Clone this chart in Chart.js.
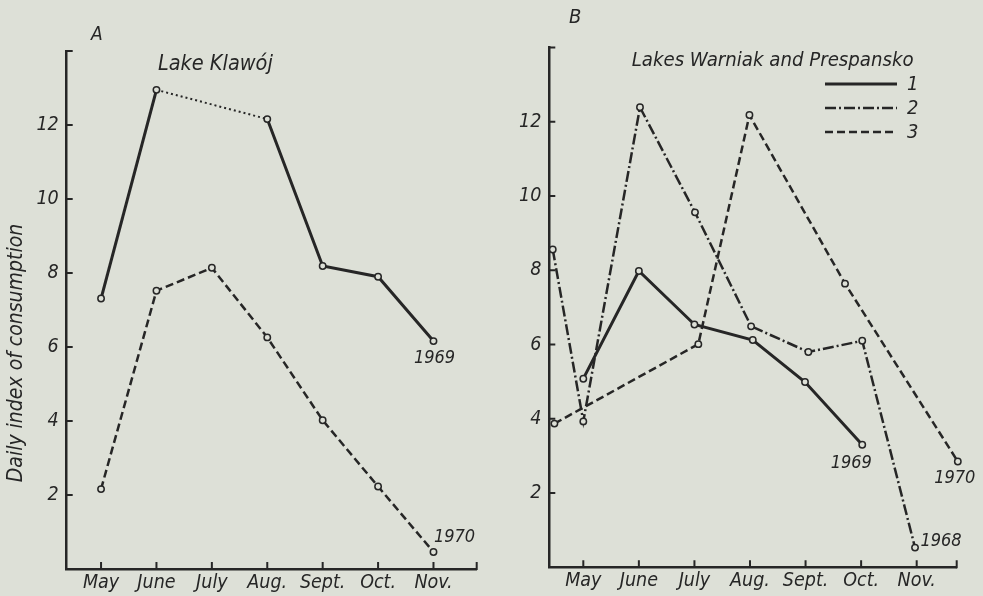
<!DOCTYPE html>
<html><head><meta charset="utf-8">
<script src="https://cdn.jsdelivr.net/npm/chart.js@4"></script>
<style>
html,body{margin:0;padding:0;background:#dde0d7;}
#wrap{position:relative;width:983px;height:596px;overflow:hidden;background:#dde0d7;}
canvas{position:absolute;top:0;}
</style></head><body>
<div id="wrap">
<canvas id="ca" width="490" height="596" style="left:0;width:490px;height:596px"></canvas>
<canvas id="cb" width="493" height="596" style="left:490px;width:493px;height:596px"></canvas>
</div>
<script>
// ---- data ----
const MONTHS = ['May','June','July','Aug.','Sept.','Oct.','Nov.'];
const MONTH_POS = [5,6,7,8,9,10,11];
const Y_TICKS = [2,4,6,8,10,12];

// Panel A – Lake Klawój
const A_1969_X = [5,6,8,9,10,11];
const A_1969_Y = [7.31,12.95,12.16,8.19,7.90,6.16];
const A_1970_X = [5,6,7,8,9,10,11];
const A_1970_Y = [2.16,7.52,8.14,6.26,4.02,2.23,0.46];

// Panel B – Lakes Warniak and Prespansko
const B_1_X = [5,6,7,8.05,8.99,10.02];
const B_1_Y = [5.08,7.98,6.54,6.12,4.99,3.30];
const B_2_X = [4.45,5,6.02,7.01,8.02,9.05,10.02,10.97];
const B_2_Y = [8.56,3.93,12.39,9.56,6.49,5.80,6.10,0.53];
const B_3_X = [4.48,7.07,7.99,9.71,11.74];
const B_3_Y = [3.87,6.01,12.18,7.64,2.85];

// ---- style ----
const INK = '#262626';
const PAPER = '#dde0d7';
const FONT = "'DejaVu Sans Condensed','Liberation Sans Narrow','Roboto Condensed','DejaVu Sans',sans-serif";
const DASH = [8,4];
const DASHDOT = [11,3,2,3];

function series(label, xs, ys, style) {
  return Object.assign({
    label: label,
    data: xs.map((x,i)=>({x:x, y:ys[i]})),
    borderColor: INK, backgroundColor: PAPER,
    pointBackgroundColor: PAPER, pointBorderColor: INK,
    pointRadius: 3.2, pointBorderWidth: 1.5, pointHoverRadius: 3.2,
    showLine: true, fill: false, tension: 0, clip: false,
    borderCapStyle: 'butt', borderJoinStyle: 'miter'
  }, style);
}

function decoPlugin(cfg) {
  return {
    id: 'deco',
    afterDraw(chart) {
      const ctx = chart.ctx, xs = chart.scales.x, ys = chart.scales.y, ca = chart.chartArea;
      ctx.save();
      ctx.strokeStyle = INK; ctx.lineWidth = 2; ctx.setLineDash([]);
      ctx.beginPath();
      MONTH_POS.forEach(v => { const px = xs.getPixelForValue(v); ctx.moveTo(px, ca.bottom); ctx.lineTo(px, ca.bottom - 7); });
      ctx.moveTo(ca.right, ca.bottom + 1); ctx.lineTo(ca.right, ca.bottom - 7);
      Y_TICKS.forEach(v => { const py = ys.getPixelForValue(v); ctx.moveTo(ca.left, py); ctx.lineTo(ca.left + 6, py); });
      ctx.moveTo(ca.left, ca.top); ctx.lineTo(ca.left + 6, ca.top);
      ctx.stroke();
      ctx.fillStyle = INK;
      ctx.textBaseline = 'alphabetic';
      (cfg.texts || []).forEach(t => {
        ctx.font = 'italic ' + t.size + 'px ' + FONT;
        ctx.textAlign = t.align || 'left';
        ctx.fillText(t.text, t.x, t.y);
      });
      (cfg.endLabels || []).forEach(t => {
        const meta = chart.getDatasetMeta(t.ds);
        const p = meta.data[meta.data.length - 1];
        ctx.font = 'italic ' + t.size + 'px ' + FONT;
        ctx.textAlign = 'center'; ctx.textBaseline = 'middle';
        ctx.fillText(t.text, p.x + t.dx, p.y + t.dy);
      });
      if (cfg.yTitle) {
        ctx.save();
        ctx.translate(cfg.yTitle.x, cfg.yTitle.y);
        ctx.rotate(-Math.PI / 2);
        ctx.font = 'italic ' + cfg.yTitle.size + 'px ' + FONT;
        ctx.textAlign = 'center'; ctx.textBaseline = 'middle';
        ctx.fillText(cfg.yTitle.text, 0, 0);
        ctx.restore();
      }
      if (cfg.legend) {
        const L = cfg.legend;
        chart.data.datasets.forEach((d, i) => {
          const y = L.y0 + i * L.dy;
          ctx.beginPath();
          ctx.setLineDash(d.borderDash || []);
          ctx.lineWidth = d.borderWidth;
          ctx.moveTo(L.x0, y); ctx.lineTo(L.x1, y); ctx.stroke();
          ctx.setLineDash([]);
          ctx.font = 'italic ' + L.size + 'px ' + FONT;
          ctx.textAlign = 'left'; ctx.textBaseline = 'middle';
          ctx.fillText(d.label, L.tx, y + 1);
        });
      }
      ctx.restore();
    }
  };
}

function options(p) {
  return {
    responsive: false, animation: false, devicePixelRatio: 1,
    layout: { padding: { top: p.top, right: p.right, left: 0, bottom: 0 } },
    plugins: { legend: { display: false }, tooltip: { enabled: false } },
    scales: {
      x: {
        type: 'linear', min: p.xmin, max: p.xmax,
        afterFit: s => { s.height = p.xh; },
        afterBuildTicks: s => { s.ticks = MONTH_POS.map(v => ({ value: v })); },
        grid: { display: true, drawOnChartArea: false, drawTicks: false },
        border: { display: true, color: INK, width: 2.5 },
        ticks: {
          padding: 2, color: INK, maxRotation: 0, autoSkip: false,
          font: { family: FONT, size: 19.5, style: 'italic' },
          callback: v => MONTHS[MONTH_POS.indexOf(v)]
        }
      },
      y: {
        type: 'linear', min: 0, max: 14,
        afterFit: s => { s.width = p.left; },
        afterBuildTicks: s => { s.ticks = Y_TICKS.map(v => ({ value: v })); },
        grid: { display: true, drawOnChartArea: false, drawTicks: false },
        border: { display: true, color: INK, width: 2.5 },
        ticks: {
          padding: 8, color: INK,
          font: { family: FONT, size: 19.5, style: 'italic' }
        }
      }
    }
  };
}

new Chart(document.getElementById('ca'), {
  type: 'line',
  data: {
    datasets: [
      series('1969', A_1969_X, A_1969_Y, {
        borderWidth: 3,
        segment: {
          borderDash: c => (c.p1.parsed.x - c.p0.parsed.x > 1.5 ? [2, 3] : undefined),
          borderWidth: c => (c.p1.parsed.x - c.p0.parsed.x > 1.5 ? 2 : undefined)
        }
      }),
      series('1970', A_1970_X, A_1970_Y, { borderWidth: 2.5, borderDash: DASH })
    ]
  },
  options: options({ top: 51, right: 13.3, left: 66.7, xh: 27, xmin: 4.38, xmax: 11.78 }),
  plugins: [decoPlugin({
    texts: [
      { text: 'A', x: 91, y: 40, size: 19 },
      { text: 'Lake Klawój', x: 158, y: 70, size: 21.5 }
    ],
    endLabels: [
      { ds: 0, text: '1969', dx: 1, dy: 17, size: 18 },
      { ds: 1, text: '1970', dx: 21, dy: -15, size: 18 }
    ],
    yTitle: { text: 'Daily index of consumption', x: 16.5, y: 353, size: 21 }
  })]
});

new Chart(document.getElementById('cb'), {
  type: 'line',
  data: {
    datasets: [
      series('1', B_1_X, B_1_Y, { borderWidth: 3 }),
      series('2', B_2_X, B_2_Y, { borderWidth: 2.5, borderDash: DASHDOT }),
      series('3', B_3_X, B_3_Y, { borderWidth: 2.5, borderDash: DASH })
    ]
  },
  options: options({ top: 47.5, right: 26.3, left: 59.3, xh: 28.7, xmin: 4.388, xmax: 11.72 }),
  plugins: [decoPlugin({
    texts: [
      { text: 'B', x: 79, y: 23, size: 20 },
      { text: 'Lakes Warniak and Prespansko', x: 141.7, y: 65.5, size: 20.2 }
    ],
    endLabels: [
      { ds: 0, text: '1969', dx: -11, dy: 19, size: 18 },
      { ds: 1, text: '1968', dx: 26, dy: -6, size: 18 },
      { ds: 2, text: '1970', dx: -3, dy: 17, size: 18 }
    ],
    legend: { x0: 335, x1: 407, tx: 417, y0: 84, dy: 24, size: 20 }
  })]
});
</script>
</body></html>
